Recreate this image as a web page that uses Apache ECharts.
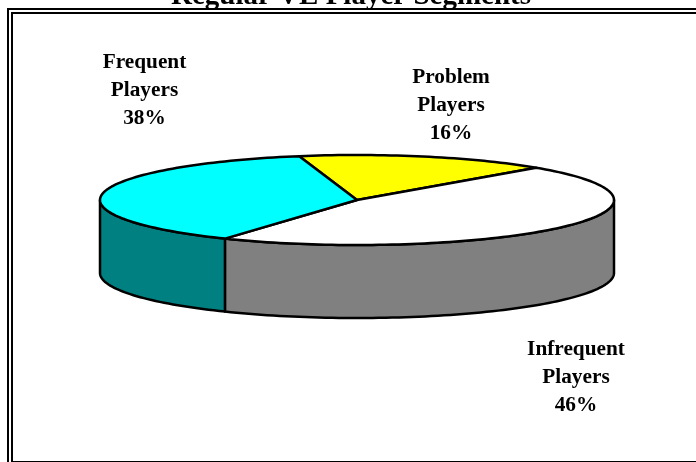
<!DOCTYPE html>
<html>
<head>
<meta charset="utf-8">
<style>
  html, body { margin: 0; padding: 0; background: #fff; }
  #main { width: 696px; height: 462px; }
</style>
<script src="https://cdn.jsdelivr.net/npm/echarts@6/dist/echarts.min.js"></script>
</head>
<body>
<div id="main"></div>
<script>
var titleText = 'Regular VE Player Segments';
var categories = ['Problem Players', 'Infrequent Players', 'Frequent Players'];
var shares = [15.9, 46.3, 37.8];
var topColors = ['#ffff00', '#ffffff', '#00ffff'];
var sideColors = ['#808000', '#808080', '#008080'];
var labelNames = [['Problem', 'Players'], ['Infrequent', 'Players'], ['Frequent', 'Players']];
var labelCenters = [[451, 105], [576, 377], [144.5, 90]];

var cx = 357, cy = 200, rx = 257, ry = 45, depth = 73;
var firstAngle = -13; // degrees clockwise from 12 o'clock

var total = shares.reduce(function (a, b) { return a + b; }, 0);

function pt(deg, dy) {
  var r = deg * Math.PI / 180;
  return [cx + rx * Math.sin(r), cy - ry * Math.cos(r) + (dy || 0)];
}
function arcPts(a0, a1, dy) {
  var n = Math.max(2, Math.ceil(Math.abs(a1 - a0) / 1.5));
  var out = [];
  for (var i = 0; i <= n; i++) out.push(pt(a0 + (a1 - a0) * i / n, dy));
  return out;
}
// slice i spans these angles
function sliceSpan(i) {
  var before = 0;
  for (var k = 0; k < i; k++) before += shares[k];
  return [firstAngle + before / total * 360, firstAngle + (before + shares[i]) / total * 360];
}

var lineStyle = { stroke: '#000', lineWidth: 2.5, lineJoin: 'round' };

function renderSlice(params, api) {
  var i = api.value(0);
  var span = sliceSpan(i);
  var children = [];
  // only the front half of the rim (90..270 deg) is visible
  var s0 = Math.max(span[0], 90), s1 = Math.min(span[1], 270);
  if (s1 > s0) {
    var top = arcPts(s0, s1, 0);
    var bottom = arcPts(s1, s0, depth);
    children.push({
      type: 'polygon',
      shape: { points: top.concat(bottom) },
      style: Object.assign({ fill: sideColors[i] }, lineStyle)
    });
  }
  children.push({
    type: 'polygon',
    shape: { points: [[cx, cy]].concat(arcPts(span[0], span[1], 0)) },
    style: Object.assign({ fill: topColors[i] }, lineStyle)
  });
  return { type: 'group', children: children };
}

function renderLabel(params, api) {
  var i = api.value(0);
  return {
    type: 'text',
    style: {
      x: labelCenters[i][0],
      y: labelCenters[i][1],
      text: labelNames[i].concat(Math.round(shares[i]) + '%').join('\n'),
      fill: '#000',
      font: 'bold 21.3px "Liberation Serif"',
      lineHeight: 28,
      align: 'center',
      verticalAlign: 'middle'
    }
  };
}

// frame lines drawn as solid strips so they land on whole pixels
function strip(x, y, width, height) {
  return { type: 'rect', z: 1, shape: { x: x, y: y, width: width, height: height }, style: { fill: '#000' } };
}

var seriesData = categories.map(function (name, i) { return { name: name, value: [i, shares[i]] }; });

var chart = echarts.init(document.getElementById('main'), null, { renderer: 'canvas' });
chart.setOption({
  animation: false,
  backgroundColor: '#fff',
  title: {
    text: titleText,
    left: 346,
    top: -23,
    textAlign: 'center',
    textStyle: { fontFamily: 'Liberation Serif', fontWeight: 'bold', fontSize: 29, color: '#000' }
  },
  graphic: [
    strip(7, 8, 689, 2),
    strip(7, 8, 2, 454),
    strip(11, 12, 685, 2),
    strip(11, 12, 2, 450),
    strip(11, 461, 685, 1)
  ],
  series: [
    { type: 'custom', coordinateSystem: 'none', renderItem: renderSlice, data: seriesData, silent: true, z: 2 },
    { type: 'custom', coordinateSystem: 'none', renderItem: renderLabel, data: seriesData, silent: true, z: 3 }
  ]
});
</script>
</body>
</html>
